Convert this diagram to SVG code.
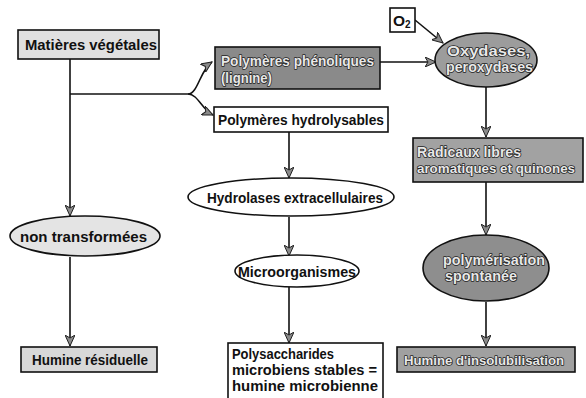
<svg xmlns="http://www.w3.org/2000/svg" width="586" height="398" viewBox="0 0 586 398">
<defs>
<marker id="ah" markerWidth="12" markerHeight="10" refX="11" refY="5" orient="auto" markerUnits="userSpaceOnUse">
<path d="M0,0 L11,5 L0,10 L3,5 Z" fill="#8a8a8a" stroke="#222" stroke-width="1"/>
</marker>
<style>
.sh{stroke:#111;stroke-width:1.6}
.w{fill:#fff}
.l{fill:#e0e0e0}
.t{font-family:"Liberation Sans",Arial,sans-serif;font-weight:bold;font-size:15.5px;fill:#111}
.o{font-family:"Liberation Sans",Arial,sans-serif;font-weight:bold;font-size:15.5px;fill:#e8e8e8;stroke:#222;stroke-width:1.6;paint-order:stroke;stroke-linejoin:round}
.s{font-size:13.5px}
.c{fill:none;stroke:#111;stroke-width:1.6}
</style>
</defs>
<rect width="586" height="398" fill="#fff"/>
<g id="connectors">
<path class="c" d="M70,59 V216" marker-end="url(#ah)"/>
<path class="c" d="M70,94 H188"/>
<path class="c" d="M188,94 C198,94 200,70 212,62" marker-end="url(#ah)"/>
<path class="c" d="M188,94 C198,94 202,110 213,115" marker-end="url(#ah)"/>
<path class="c" d="M70,257 V346" marker-end="url(#ah)"/>
<path class="c" d="M289,132 V178" marker-end="url(#ah)"/>
<path class="c" d="M289,217 V256" marker-end="url(#ah)"/>
<path class="c" d="M289,287 V343" marker-end="url(#ah)"/>
<path class="c" d="M380,62 H436" marker-end="url(#ah)"/>
<path class="c" d="M415,20 L443,43" marker-end="url(#ah)"/>
<path class="c" d="M486,87 V137" marker-end="url(#ah)"/>
<path class="c" d="M486,182 V235" marker-end="url(#ah)"/>
<path class="c" d="M486,302 V346" marker-end="url(#ah)"/>
</g>
<g id="matieres">
<rect class="sh l" x="18" y="30" width="141" height="29"/>
<text class="t" x="25" y="50" textLength="132" lengthAdjust="spacingAndGlyphs">Matières végétales</text>
</g>
<g id="phenoliques">
<rect class="sh" x="215" y="47" width="165" height="42" style="fill:#8a8a8a"/>
<text class="o" x="221" y="66" textLength="153" lengthAdjust="spacingAndGlyphs">Polymères phénoliques</text>
<text class="o" x="221" y="83" textLength="51" lengthAdjust="spacingAndGlyphs">(lignine)</text>
</g>
<g id="hydrolysables">
<rect class="sh w" x="214" y="107" width="174" height="25"/>
<text class="t" x="218" y="125" textLength="166" lengthAdjust="spacingAndGlyphs">Polymères hydrolysables</text>
</g>
<g id="o2">
<rect class="sh w" x="390" y="8" width="25" height="24"/>
<text class="t" x="393" y="26">O<tspan font-size="10" dy="2">2</tspan></text>
</g>
<g id="oxydases">
<ellipse class="sh" cx="486" cy="60" rx="51" ry="27" style="fill:#9c9c9c"/>
<text class="o" x="447" y="56" textLength="83" lengthAdjust="spacingAndGlyphs">Oxydases,</text>
<text class="o" x="446" y="72" textLength="87" lengthAdjust="spacingAndGlyphs">peroxydases</text>
</g>
<g id="radicaux">
<rect class="sh" x="413" y="138" width="170" height="44" style="fill:#a2a2a2"/>
<text class="o" x="417" y="157" textLength="104" lengthAdjust="spacingAndGlyphs">Radicaux libres</text>
<text class="o s" x="417" y="173" textLength="158" lengthAdjust="spacingAndGlyphs">aromatiques et quinones</text>
</g>
<g id="hydrolases">
<ellipse class="sh w" cx="291" cy="197" rx="103" ry="19"/>
<text class="t" x="207" y="203" textLength="176" lengthAdjust="spacingAndGlyphs">Hydrolases extracellulaires</text>
</g>
<g id="microorganismes">
<ellipse class="sh w" cx="297" cy="271" rx="62" ry="16"/>
<text class="t" x="238" y="277" textLength="118" lengthAdjust="spacingAndGlyphs">Microorganismes</text>
</g>
<g id="polysaccharides">
<rect class="sh w" x="228" y="343" width="155" height="58"/>
<text class="t" x="232" y="359" textLength="102" lengthAdjust="spacingAndGlyphs">Polysaccharides</text>
<text class="t" x="232" y="375" textLength="145" lengthAdjust="spacingAndGlyphs">microbiens stables =</text>
<text class="t" x="232" y="391" textLength="146" lengthAdjust="spacingAndGlyphs">humine microbienne</text>
</g>
<g id="nontransformees">
<ellipse class="sh" cx="85" cy="236" rx="75" ry="20" style="fill:#e4e4e4"/>
<text class="t" x="20" y="242" textLength="127" lengthAdjust="spacingAndGlyphs">non transformées</text>
</g>
<g id="residuelle">
<rect class="sh" x="21" y="347" width="136" height="25" style="fill:#d8d8d8"/>
<text class="t" x="32" y="365" textLength="116" lengthAdjust="spacingAndGlyphs">Humine résiduelle</text>
</g>
<g id="polymerisation">
<ellipse class="sh" cx="486" cy="268" rx="63" ry="33" style="fill:#8e8e8e"/>
<text class="o" x="443" y="265" textLength="102" lengthAdjust="spacingAndGlyphs">polymérisation</text>
<text class="o" x="445" y="281" textLength="72" lengthAdjust="spacingAndGlyphs">spontanée</text>
</g>
<g id="insolubilisation">
<rect class="sh" x="397" y="347" width="178" height="25" style="fill:#a0a0a0"/>
<text class="o s" x="404" y="365" textLength="160" lengthAdjust="spacingAndGlyphs">Humine d'insolubilisation</text>
</g>
</svg>
